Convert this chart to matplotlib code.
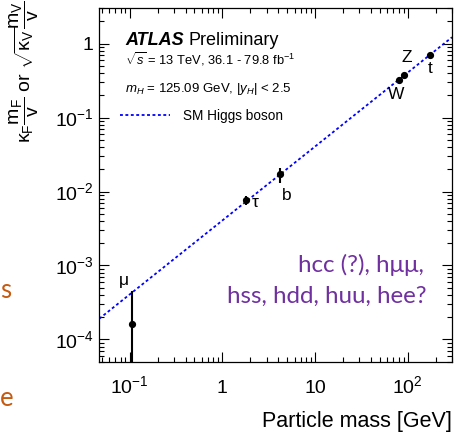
import numpy as np
import matplotlib
matplotlib.use("Agg")
import matplotlib.pyplot as plt
from matplotlib.ticker import LogLocator, NullFormatter

plt.rcParams['font.family'] = ['Liberation Sans', 'DejaVu Sans']
plt.rcParams['mathtext.fontset'] = 'custom'
plt.rcParams['mathtext.rm'] = 'Liberation Sans'
plt.rcParams['mathtext.it'] = 'Liberation Sans:italic'
plt.rcParams['mathtext.bf'] = 'Liberation Sans:bold'

# ---- data -------------------------------------------------------------
particles = ['μ', 'τ', 'b', 'W', 'Z', 't']
mass_gev = [0.1057, 1.777, 4.18, 80.38, 91.19, 172.5]
coupling = [1.64e-4, 7.56e-3, 0.01733, 0.324, 0.375, 0.711]
err_up = [2.86e-4, 1.01e-3, 3.7e-3, 0.010, 0.010, 0.035]
err_down = [1.63e-4, 0.94e-3, 4.4e-3, 0.010, 0.010, 0.035]
vev_gev = 246.22

x_ticks = [0.1, 1, 10, 100]
x_tick_labels = [r'$10^{-1}$', '1', '10', r'$10^{2}$']
y_ticks = [1e-4, 1e-3, 1e-2, 1e-1, 1]
y_tick_labels = [r'$10^{-4}$', r'$10^{-3}$', r'$10^{-2}$', r'$10^{-1}$', '1']
x_range = [0.047, 300]
y_range = [5e-5, 3]

# label offsets from each point, in pixels
label_offsets = {'μ': (-8, 43), 'τ': (10, -2), 'b': (7, -22),
                 'W': (-3, -15), 'Z': (3, 18), 't': (0, -14)}

W, H = 454, 434
fig = plt.figure(figsize=(W / 100, H / 100), dpi=100)
ax = fig.add_axes([99.3 / W, 1 - 361.7 / H, (452 - 99.3) / W, (361.7 - 8.3) / H])
ax.set_xscale('log')
ax.set_yscale('log')
ax.set_xlim(*x_range)
ax.set_ylim(*y_range)

# SM expectation: coupling scales linearly with mass
x_line = np.array(x_range)
ax.plot(x_line, x_line / vev_gev, color='#0000ff', lw=1.3,
        linestyle=(0, (1.6, 1.4)), label='SM Higgs boson', zorder=2)

ax.errorbar(mass_gev, coupling, yerr=[err_down, err_up], fmt='o', color='black',
            ms=4.2, elinewidth=1.5, capsize=0, zorder=3)

for name, m, c in zip(particles, mass_gev, coupling):
    dx, dy = label_offsets[name]
    ax.annotate(name, xy=(m, c), xytext=(dx, dy), textcoords='offset pixels',
                ha='center', va='center', fontsize=12.5)

# axes styling
ax.set_xticks(x_ticks, x_tick_labels)
ax.set_yticks(y_ticks, y_tick_labels)
ax.xaxis.set_minor_locator(LogLocator(base=10, subs=np.arange(2, 10), numticks=20))
ax.yaxis.set_minor_locator(LogLocator(base=10, subs=np.arange(2, 10), numticks=20))
ax.xaxis.set_minor_formatter(NullFormatter())
ax.yaxis.set_minor_formatter(NullFormatter())
ax.tick_params(which='both', direction='in', top=True, right=True, width=0.8,
               labelsize=14)
ax.tick_params(which='major', length=7.5)
ax.tick_params(which='minor', length=3.8)
ax.tick_params(axis='x', pad=22.5)
ax.tick_params(axis='y', pad=4)
for lbl in ax.get_xticklabels():
    lbl.set_verticalalignment('baseline')
for sp in ax.spines.values():
    sp.set_linewidth(0.9)

ax.set_xlabel('Particle mass [GeV]', fontsize=15.5, loc='right')
ax.xaxis.set_label_coords(1.0, -0.139)
ax.set_ylabel(r'$\mathrm{\kappa_F\dfrac{m_F}{v}}$ or $\mathrm{\sqrt{\kappa_V}\dfrac{m_V}{v}}$',
              fontsize=14, loc='top')
ax.yaxis.set_label_coords(-0.165, 1.023)


def fx(px):
    return px / W


def fy(py):
    return 1 - py / H


fig.text(fx(125), fy(45), 'ATLAS', fontsize=13, fontweight='bold',
         fontstyle='italic', va='baseline')
fig.text(fx(189), fy(45), 'Preliminary', fontsize=13, va='baseline')
fig.text(fx(125), fy(64), r'$\sqrt{s}$ = 13 TeV, 36.1 - 79.8 fb$^{-1}$',
         fontsize=9.3, va='baseline')
fig.text(fx(125), fy(92), r'$m_{H}$ = 125.09 GeV, $|y_{H}|$ < 2.5',
         fontsize=9.5, va='baseline')

ax.legend(loc='center left', bbox_to_anchor=(fx(120), fy(116)),
          bbox_transform=fig.transFigure, frameon=False, fontsize=9.8,
          handlelength=3.7, handletextpad=0.9, borderpad=0, borderaxespad=0)

purple = '#7030a0'
fig.text(fx(424), fy(272), 'hcc (?), hμμ,', fontsize=17.4, color=purple,
         ha='right', va='baseline', family=['Lato', 'DejaVu Sans'])
fig.text(fx(427), fy(303), 'hss, hdd, huu, hee?', fontsize=17.4, color=purple,
         ha='right', va='baseline', family=['Lato', 'DejaVu Sans'])

orange = '#c55a11'
fig.text(fx(0), fy(290), 's', fontsize=18.5, color=orange, ha='left',
         va='center', family=['Lato', 'DejaVu Sans'])
fig.text(fx(0), fy(398), 'e', fontsize=18.5, color=orange, ha='left',
         va='center', family=['Lato', 'DejaVu Sans'])

fig.savefig('out.png', dpi=100)
